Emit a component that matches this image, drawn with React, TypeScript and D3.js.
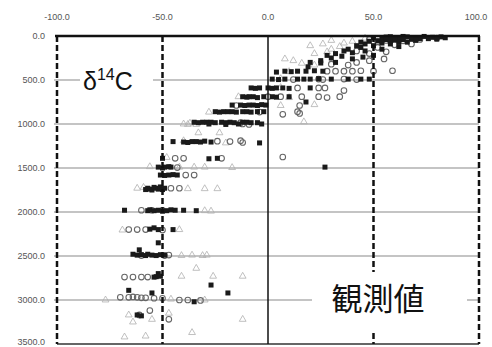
import React from 'react'
import * as d3 from 'd3'

// x ticks (top axis) and depth ticks (left axis)
const xTicks = [-100, -50, 0, 50, 100]
const depthTicks = [0, 500, 1000, 1500, 2000, 2500, 3000, 3500]

// filled squares [delta14C, depth]
const squares: [number, number][] = [
    [82, 10], [78, 15], [74, 5], [70, 20], [66, 10], [62, 25], [58, 8], [54, 30], [50, 20], [68, 35], [60, 45], [76, 30],
    [84, 20], [80, 35], [72, 30], [64, 40], [56, 40], [52, 55], [48, 60], [44, 70], [58, 60], [70, 50], [62, 65],
    [46, 90], [42, 110], [54, 80], [36, 170], [32, 200], [28, 220], [64, 5], [56, 12], [60, 30],
    [66, 70], [58, 90], [50, 110], [44, 130], [38, 150], [54, 150], [46, 170], [62, 120], [40, 190],
    [35, 230], [30, 250], [25, 280], [20, 300], [40, 260], [45, 240], [50, 220], [32, 300], [19, 350], [25, 307],
    [4, 410], [8, 400], [11, 405], [14, 400], [18, 400], [22, 395], [26, 400],
    [2, 490], [5, 495], [8, 490], [14, 490], [17, 490], [20, 490], [24, 485], [30, 490], [38, 490], [44, 490], [48, 490],
    [-8, 590], [-6, 595], [-4, 590], [0, 590], [2, 595], [4, 590], [7, 590], [10, 595], [20, 590],
    [-12, 690], [-10, 695], [-9, 690], [-7, 690], [-5, 700], [-2, 690], [2, 690], [4, 695], [10, 690], [18, 750],
    [-17, 785], [-13, 785], [-11, 790], [-9, 785], [-7, 785], [-5, 790], [-3, 780], [-1, 785],
    [-25, 860], [-23, 865], [-21, 860], [-19, 860], [-17, 860], [-15, 865], [-12, 860], [-10, 860], [-8, 865], [-5, 860], [-2, 860],
    [-35, 980], [-33, 985], [-31, 980], [-29, 980], [-27, 980], [-25, 985], [-22, 980], [-20, 985], [-18, 980], [-16, 985],
    [-12, 980], [-10, 980], [-8, 985], [-5, 985],
    [-28, 1000], [-20, 1005], [-14, 1000], [-3, 1000],
    [-45, 1200], [-40, 1205], [-38, 1210], [-36, 1200], [-34, 1200], [-32, 1205], [-30, 1195], [-27, 1205], [-4, 1215],
    [-50, 1390], [-24, 1390], [-28, 1395],
    [-52, 1490], [-50, 1500], [-49, 1490], [-47, 1485], [-46, 1490], [27, 1490],
    [-51, 1580], [-49, 1585], [-47, 1580], [-45, 1575], [-43, 1580],
    [-58, 1745], [-57, 1730], [-56, 1740], [-55, 1750], [-54, 1720], [-53, 1730], [-52, 1740], [-51, 1715], [-50, 1745], [-49, 1730],
    [-68, 1980], [-57, 1985], [-56, 1975], [-54, 1985], [-52, 1980], [-50, 1990], [-48, 1985], [-46, 1975], [-44, 1980], [-40, 1980], [-34, 1985],
    [-56, 2195], [-54, 2180], [-52, 2200], [-45, 2200], [-52, 2350],
    [-64, 2480], [-62, 2490], [-61, 2430], [-60, 2485], [-58, 2495], [-57, 2480], [-55, 2490], [-53, 2495], [-51, 2485], [-49, 2490],
    [-54, 2740], [-53, 2735], [-52, 2700], [-51, 2730],
    [-27, 2830], [-19, 2920], [-66, 2890], [-55, 2920], [-35, 3020],
    [-62, 3170], [-60, 3180],
]

// open circles
const circles: [number, number][] = [
    [80, 25], [72, 40], [64, 55], [56, 50], [48, 40], [52, 65],
    [60, 100], [52, 130], [68, 90], [42, 170], [48, 200], [56, 180],
    [42, 300], [48, 280], [55, 260], [38, 330], [30, 320],
    [28, 400], [32, 400], [36, 400], [40, 400], [44, 395], [50, 400], [59, 395],
    [12, 495], [24, 490], [36, 490], [42, 495], [26, 495],
    [14, 590], [24, 590], [27, 590], [36, 620],
    [0, 690], [6, 690], [16, 690], [24, 690], [28, 700], [34, 690],
    [-15, 790], [15, 790], [-4, 865], [14, 860], [7, 890], [15, 880],
    [-13, 985], [-12, 1000], [-9, 1005],
    [-24, 1195], [-18, 1200], [-12, 1210], [-13, 1190],
    [-44, 1390], [-40, 1390], [-22, 1390], [7, 1375],
    [-43, 1495], [-39, 1580], [-35, 1580],
    [-46, 1730], [-42, 1730],
    [-60, 1980], [-55, 1980], [-50, 1980],
    [-66, 2200], [-62, 2200], [-58, 2200], [-50, 2205],
    [-60, 2495], [-49, 2495], [-47, 2490],
    [-68, 2740], [-64, 2740], [-60, 2740], [-57, 2740],
    [-70, 2970], [-66, 2970], [-64, 2965], [-62, 2970], [-60, 2975], [-58, 2975], [-54, 2980], [-50, 2980],
    [-42, 3000], [-38, 3000], [-32, 3005],
    [-56, 3120], [-47, 3220], [-61, 3170],
]

// open triangles
const triangles: [number, number][] = [
    [46, 25], [40, 60], [36, 80], [30, 50], [20, 110], [26, 90],
    [34, 120], [30, 150], [28, 180], [22, 200],
    [16, 310], [12, 280], [8, 260], [22, 330], [10, 405], [6, 485], [6, 585],
    [-14, 690], [10, 700], [6, 790], [22, 780], [-28, 865],
    [-37, 990], [17, 975], [-40, 1000], [-38, 1005], [-34, 1005],
    [-33, 1100], [-23, 1100], [-40, 1190], [-20, 1215], [-48, 1380],
    [-56, 1485], [-35, 1490], [-17, 1495], [-42, 1490], [-30, 1490],
    [-62, 1730], [-38, 1735], [-30, 1735], [-24, 1735], [-59, 1720],
    [-30, 1985], [-27, 1990], [-42, 2200], [-69, 2205],
    [-41, 2495], [-36, 2490], [-31, 2495], [-29, 2490],
    [-34, 2640], [-41, 2730], [-26, 2730], [-12, 2730],
    [-77, 3000], [-30, 3000], [-46, 2990],
    [-66, 3170], [-55, 3220], [-68, 3420], [-58, 3410], [-36, 3370], [-12, 3220], [-64, 3250], [-47, 3150],
]

const W = 492
const H = 347

const App = () => {
    const x = d3.scaleLinear().domain([-100, 100]).range([57, 479])
    const y = d3.scaleLinear().domain([0, 3500]).range([36, 344])
    const tri = d3.symbol().type(d3.symbolTriangle).size(20)()
    const fmt = (v: number) => v.toFixed(1)
    const font = '"Liberation Sans", Arial, sans-serif'

    return (
        <svg width={W} height={H} style={{ position: 'absolute', left: 0, top: 0, background: '#fff' }}>
            {/* horizontal gridlines */}
            {depthTicks.slice(1, -1).map((d) => (
                <line key={'h' + d} x1={x(-100) - 3} x2={x(100)} y1={y(d)} y2={y(d)} stroke="#8a8a8a" strokeWidth={1.2} />
            ))}
            <line x1={x(-100)} x2={x(100)} y1={y(3500)} y2={y(3500)} stroke="#333" strokeWidth={1.5} />

            {/* points */}
            {triangles.map((p, i) => (
                <path key={'t' + i} d={tri || ''} transform={`translate(${x(p[0])},${y(p[1])})`} fill="none" stroke="#b0b0b0" strokeWidth={0.8} />
            ))}
            {circles.map((p, i) => (
                <circle key={'c' + i} cx={x(p[0])} cy={y(p[1])} r={2.8} fill="none" stroke="#666" strokeWidth={1.1} />
            ))}
            {squares.map((p, i) => (
                <rect key={'s' + i} x={x(p[0]) - 2.5} y={y(p[1]) - 2.5} width={5} height={5} fill="#1a1a1a" />
            ))}

            {/* vertical lines */}
            {xTicks.filter((v) => v !== 0).map((v) => (
                <line key={'v' + v} x1={x(v)} x2={x(v)} y1={y(0)} y2={y(3500)} stroke="#111" strokeWidth={2.5} strokeDasharray="6,3" />
            ))}
            <line x1={x(0)} x2={x(0)} y1={y(0)} y2={y(3500)} stroke="#111" strokeWidth={1.5} />
            <line x1={x(-100) - 2} x2={x(100) + 1} y1={y(0)} y2={y(0)} stroke="#111" strokeWidth={2.5} />

            {/* tick labels */}
            {xTicks.map((v) => (
                <text key={'xl' + v} x={Math.min(x(v), 476)} y={20} textAnchor="middle" fontSize={9} fill="#555" fontFamily={font}>{fmt(v)}</text>
            ))}
            {depthTicks.map((d) => (
                <text key={'yl' + d} x={45} y={Math.min(y(d) + 3, 345)} textAnchor="end" fontSize={9} fill="#555" fontFamily={font}>{fmt(d)}</text>
            ))}

            {/* labels */}
            <rect x={80} y={62} width={73} height={34} fill="#fff" />
            <text x={83} y={90} fontSize={25} fill="#111" fontFamily={font}>
                δ<tspan fontSize={16} dy={-10}>14</tspan><tspan dy={10}>C</tspan>
            </text>
            <rect x={312} y={272} width={155} height={59} fill="#fff" />
            <text x={378} y={310} textAnchor="middle" fontSize={31} fill="#111" fontFamily='"Noto Sans CJK JP", sans-serif'>観測値</text>
        </svg>
    )
}

export default App
